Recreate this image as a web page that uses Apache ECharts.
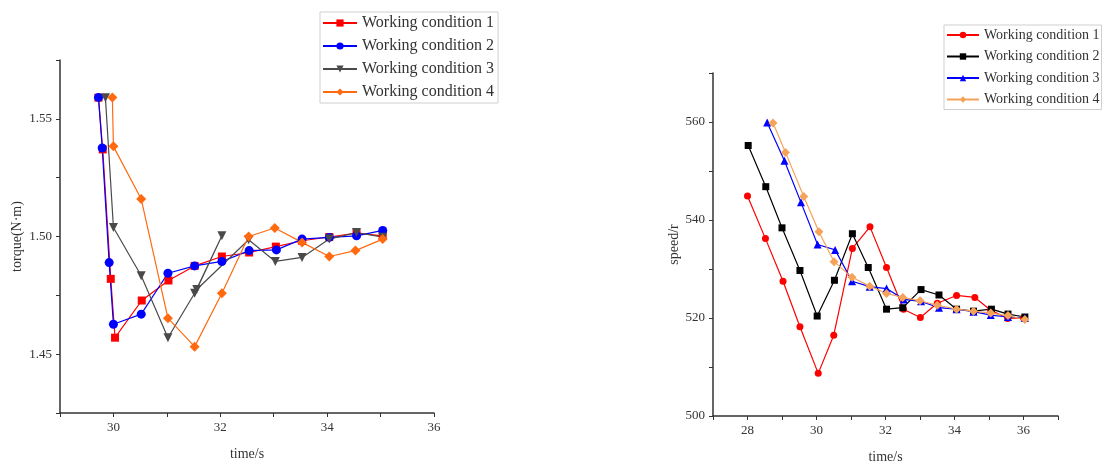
<!DOCTYPE html>
<html><head><meta charset="utf-8">
<script src="https://cdn.jsdelivr.net/npm/echarts@6/dist/echarts.min.js"></script>
<style>html,body{margin:0;padding:0;background:#fff}#c{width:1103px;height:469px}</style>
</head><body><div id="c"></div>
<script>
// ---- Torque chart (left) ----
const legendLabels = ['Working condition 1','Working condition 2','Working condition 3','Working condition 4'];
const tq1x = [29.72, 29.8, 29.95, 30.03, 30.53, 31.03, 31.52, 32.03, 32.54, 33.04, 33.53, 34.04, 34.55, 35.04];
const tq1y = [1.559, 1.537, 1.482, 1.457, 1.4728, 1.4813, 1.4875, 1.4915, 1.4932, 1.4957, 1.4982, 1.4998, 1.5014, 1.5003];
const tq2x = [29.72, 29.79, 29.92, 30.0, 30.52, 31.02, 31.52, 32.03, 32.54, 33.05, 33.53, 34.04, 34.55, 35.04];
const tq2y = [1.5591, 1.5376, 1.4889, 1.4627, 1.467, 1.4844, 1.4875, 1.4894, 1.494, 1.4943, 1.4989, 1.4996, 1.5003, 1.5026];
const tq3x = [29.85, 30.0, 30.52, 31.02, 31.52, 32.03, 31.56, 32.53, 33.03, 33.53, 34.04, 34.55, 35.04];
const tq3y = [1.559, 1.5038, 1.4833, 1.457, 1.4759, 1.5003, 1.4775, 1.4986, 1.4894, 1.4911, 1.4989, 1.5017, 1.4997];
const tq4x = [29.98, 30.0, 30.52, 31.02, 31.52, 32.03, 32.53, 33.02, 33.53, 34.04, 34.53, 35.04];
const tq4y = [1.5591, 1.5383, 1.5159, 1.4653, 1.4532, 1.4759, 1.5, 1.5036, 1.4975, 1.4915, 1.494, 1.4989];
// ---- Speed chart (right) ----
const sp1x = [28.0, 28.52, 29.03, 29.52, 30.05, 30.5, 31.04, 31.55, 32.03, 32.52, 33.01, 33.5, 34.06, 34.59, 35.05, 35.54, 36.0];
const sp1y = [544.9, 536.2, 527.5, 518.2, 508.7, 516.5, 534.2, 538.6, 530.3, 521.8, 520.1, 523.0, 524.6, 524.2, 521.6, 519.9, 520.0];
const sp2x = [28.02, 28.53, 29.0, 29.52, 30.02, 30.52, 31.04, 31.5, 32.03, 32.5, 33.03, 33.55, 34.06, 34.55, 35.07, 35.55, 36.04];
const sp2y = [555.2, 546.8, 538.4, 529.7, 520.4, 527.7, 537.2, 530.3, 521.8, 522.1, 525.8, 524.7, 521.8, 521.4, 521.8, 520.8, 520.2];
const sp3x = [28.57, 29.07, 29.55, 30.03, 30.54, 31.03, 31.54, 32.03, 32.53, 33.03, 33.55, 34.06, 34.55, 35.05, 35.55, 36.04];
const sp3y = [559.9, 552.1, 543.6, 535.0, 533.9, 527.5, 526.4, 526.0, 523.8, 523.4, 522.1, 521.8, 521.3, 520.6, 520.2, 520.0];
const sp4x = [28.74, 29.1, 29.63, 30.07, 30.51, 31.03, 31.54, 32.03, 32.5, 33.0, 33.5, 34.06, 34.55, 35.05, 35.55, 36.04];
const sp4y = [559.8, 553.8, 544.8, 537.6, 531.5, 528.3, 526.5, 525.0, 524.2, 523.5, 522.6, 521.8, 521.4, 521.0, 520.5, 519.7];

const zip = (xs, ys) => xs.map((x, i) => [x, ys[i]]);
const FONT = '"Liberation Serif", "DejaVu Serif", serif';
const TXT = '#333';

const leftSeries = [
  {id:'t1', x:tq1x, y:tq1y, color:'#ff0000', symbol:'rect', size:8},
  {id:'t2', x:tq2x, y:tq2y, color:'#0000ff', symbol:'circle', size:9},
  {id:'t3', x:tq3x, y:tq3y, color:'#4a4a4a', symbol:'triangle', size:9, rot:180},
  {id:'t4', x:tq4x, y:tq4y, color:'#ff6a10', symbol:'diamond', size:10}
];
const rightSeries = [
  {id:'s1', x:sp1x, y:sp1y, color:'#ff0000', symbol:'circle', size:7},
  {id:'s2', x:sp2x, y:sp2y, color:'#000000', symbol:'rect', size:7},
  {id:'s3', x:sp3x, y:sp3y, color:'#0000ff', symbol:'triangle', size:8},
  {id:'s4', x:sp4x, y:sp4y, color:'#f5a35a', symbol:'diamond', size:9}
];
const nameMap = {};
leftSeries.forEach((s, i) => nameMap[s.id] = legendLabels[i]);
rightSeries.forEach((s, i) => nameMap[s.id] = legendLabels[i]);

function mkSeries(list, gi) {
  return list.map(s => ({
    name: s.id, type: 'line', xAxisIndex: gi, yAxisIndex: gi,
    data: zip(s.x, s.y), symbol: s.symbol, symbolSize: s.size, symbolRotate: s.rot || 0,
    lineStyle: {color: s.color, width: 1.2}, itemStyle: {color: s.color},
    animation: false
  }));
}

const axisLineStyle = {lineStyle: {color: '#333', width: 1.5}};
const chart = echarts.init(document.getElementById('c'), null, {renderer: 'canvas'});
chart.setOption({
  backgroundColor: '#fff',
  animation: false,
  textStyle: {fontFamily: FONT},
  grid: [
    {left: 60, top: 60, width: 374, height: 353},
    {left: 713, top: 73, width: 345, height: 343}
  ],
  xAxis: [
    {type: 'value', gridIndex: 0, min: 29, max: 36, interval: 1,
     name: 'time/s', nameLocation: 'middle', nameGap: 34,
     nameTextStyle: {fontFamily: FONT, fontSize: 14, color: TXT},
     axisLine: axisLineStyle, axisTick: {length: 4, lineStyle: {color: '#333'}},
     axisLabel: {fontFamily: FONT, fontSize: 13, color: TXT, margin: 8,
       formatter: v => (Math.round(v) % 2 === 0 ? String(v) : '')},
     splitLine: {show: false}},
    {type: 'value', gridIndex: 1, min: 27, max: 37, interval: 1,
     name: 'time/s', nameLocation: 'middle', nameGap: 34,
     nameTextStyle: {fontFamily: FONT, fontSize: 14, color: TXT},
     axisLine: axisLineStyle, axisTick: {length: 4, lineStyle: {color: '#333'}},
     axisLabel: {fontFamily: FONT, fontSize: 13, color: TXT, margin: 8,
       formatter: v => (Math.round(v) % 2 === 0 ? String(v) : '')},
     splitLine: {show: false}}
  ],
  yAxis: [
    {type: 'value', gridIndex: 0, min: 1.425, max: 1.575, interval: 0.025,
     name: 'torque(N·m)', nameLocation: 'middle', nameGap: 36, nameRotate: 90,
     nameTextStyle: {fontFamily: FONT, fontSize: 14, color: TXT},
     axisLine: {show: true, lineStyle: {color: '#333', width: 1.5}},
     axisTick: {show: true, length: 4, lineStyle: {color: '#333'}},
     axisLabel: {fontFamily: FONT, fontSize: 13, color: TXT, margin: 8,
       formatter: v => (Math.round(v * 1000) % 50 === 0 ? v.toFixed(2) : '')},
     splitLine: {show: false}},
    {type: 'value', gridIndex: 1, min: 500, max: 570, interval: 10,
     name: 'speed/r', nameLocation: 'middle', nameGap: 30, nameRotate: 90,
     nameTextStyle: {fontFamily: FONT, fontSize: 14, color: TXT},
     axisLine: {show: true, lineStyle: {color: '#333', width: 1.5}},
     axisTick: {show: true, length: 4, lineStyle: {color: '#333'}},
     axisLabel: {fontFamily: FONT, fontSize: 13, color: TXT, margin: 8,
       formatter: v => (Math.round(v) % 20 === 0 ? String(v) : '')},
     splitLine: {show: false}}
  ],
  legend: [
    {data: leftSeries.map(s => s.id), orient: 'vertical', left: 320, top: 12,
     formatter: n => nameMap[n], itemWidth: 34, itemHeight: 9, itemGap: 7,
     borderColor: '#cfcfcf', borderWidth: 1, padding: [3, 4, 3, 2],
     textStyle: {fontFamily: FONT, fontSize: 16, color: TXT}},
    {data: rightSeries.map(s => s.id), orient: 'vertical', left: 944, top: 25,
     formatter: n => nameMap[n], itemWidth: 32, itemHeight: 8, itemGap: 7.5,
     borderColor: '#cfcfcf', borderWidth: 1, padding: [3, 2, 3, 2],
     textStyle: {fontFamily: FONT, fontSize: 14, color: TXT}}
  ],
  series: [...mkSeries(leftSeries, 0), ...mkSeries(rightSeries, 1)]
});
</script></body></html>
